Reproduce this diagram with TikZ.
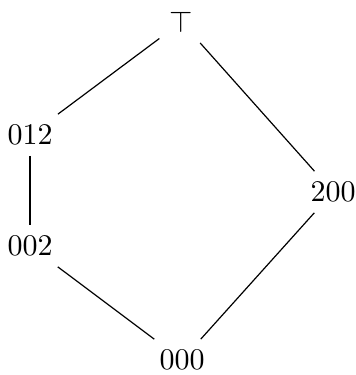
\documentclass[tikz,border=0pt]{standalone}
\begin{document}
\begin{tikzpicture}[x=0.33333pt,y=-0.33333pt,
  lat/.style={inner sep=3.3pt},
  edge/.style={draw=black,line width=0.4pt}]
\useasboundingbox (0,0) rectangle (356,375);
\node[lat] (top) at (181.5,22) {$\top$};
\node[lat] (a012) at (30,135) {012};
\node[lat] (a002) at (30,246) {002};
\node[lat] (a200) at (333,192) {200};
\node[lat] (a000) at (182,360) {000};
\draw[edge] (top) -- (a012);
\draw[edge] (top) -- (a200);
\draw[edge] (a012) -- (a002);
\draw[edge] (a002) -- (a000);
\draw[edge] (a200) -- (a000);
\end{tikzpicture}
\end{document}
